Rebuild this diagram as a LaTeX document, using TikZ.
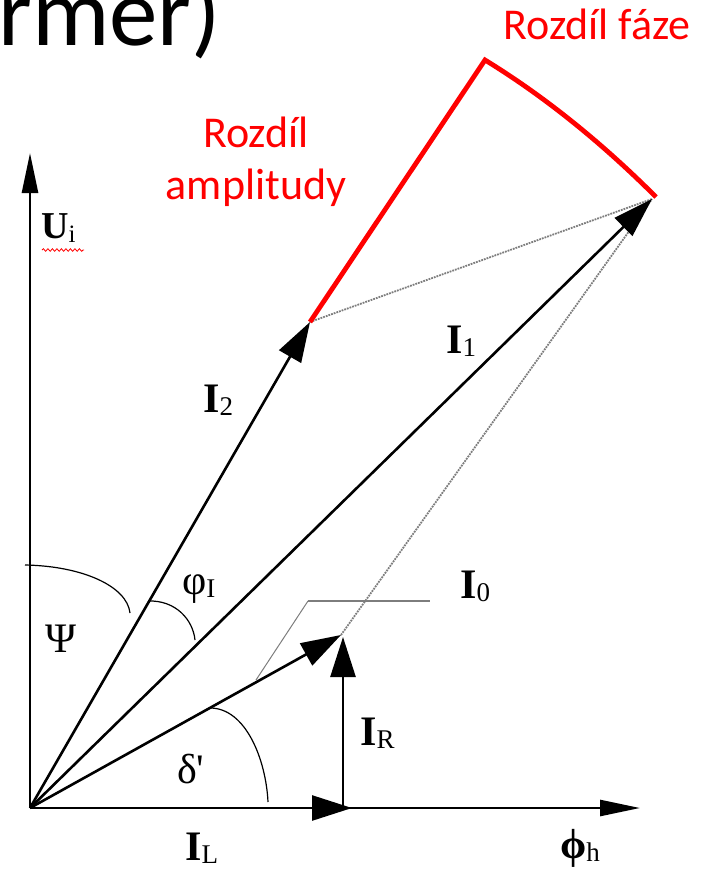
\documentclass[tikz,border=0pt]{standalone}
\usepackage{fontspec}
\setmainfont{Liberation Serif}
\newfontfamily\slidefont{Carlito}
\usetikzlibrary{arrows.meta,decorations.pathmorphing}
\definecolor{slidered}{RGB}{255,0,0}
\definecolor{leadgray}{RGB}{125,125,125}
\newcommand{\phasor}[2]{{\fontsize{42}{42}\selectfont #1}\raisebox{-3pt}{\fontsize{27}{27}\selectfont #2}}

\begin{document}
\begin{tikzpicture}[x=1pt, y=-1pt,
  vec/.style={line width=2.6pt, -{Triangle[length=40pt,width=25pt]}},
  axis/.style={line width=2.6pt, -{Triangle[length=40pt,width=16pt]}},
  anglearc/.style={line width=1.2pt},
  dotline/.style={line width=1.8pt, densely dotted, color=leadgray},
  leader/.style={color=leadgray},
  redline/.style={line width=4.8pt, color=slidered},
  lbl/.style={anchor=base west, inner sep=0pt},
  note/.style={font=\slidefont\fontsize{44}{52}\selectfont, text=slidered, align=center, inner sep=0pt}
]
  \useasboundingbox (0,0) rectangle (702,869);

  % cut-off slide title
  \node[anchor=base west, inner sep=0pt, font=\slidefont\fontsize{97}{97}\selectfont] (title) at (-2,46) {rmer)};

  % points
  \coordinate (O) at (30,808);
  \coordinate (Utip) at (30,153);
  \coordinate (Htip) at (640,808);
  \coordinate (I2tip) at (310,322);
  \coordinate (I1tip) at (652,199);
  \coordinate (I0tip) at (341,635);
  \coordinate (ILtip) at (352,808);
  \coordinate (IRfoot) at (343,808);
  \coordinate (IRtip) at (343,637);
  \coordinate (redtop) at (485,60);
  \coordinate (redend) at (656,197);
  \coordinate (lead) at (256,680);
  \coordinate (leadknee) at (308,601);
  \coordinate (leadend) at (430,601);

  % dotted construction lines
  \draw[dotline] (I2tip) -- (I1tip);
  \draw[dotline] (I0tip) -- (I1tip);

  % axes
  \draw[axis] (O) -- (Utip);
  \draw[axis] (O) -- (Htip);

  % phasors
  \draw[vec] (O) -- (I2tip);
  \draw[vec] (O) -- (I1tip);
  \draw[vec] (O) -- (I0tip);
  \draw[vec] (O) -- (ILtip);
  \draw[vec] (IRfoot) -- (IRtip);

  % angles
  \draw[anglearc] (25,565) .. controls (82,566) and (127,586) .. (130,613);
  \draw[anglearc] (148,601) .. controls (176,600) and (193,620) .. (195,640);
  \draw[anglearc] (210,708) .. controls (246,708) and (266,760) .. (268,802);

  % leader of I0
  \draw[leader, line width=1pt] (lead) -- (leadknee);
  \draw[leader, line width=2pt] (leadknee) -- (leadend);

  % red marks
  \draw[redline] (I2tip) -- (redtop) .. controls (547,98) and (604,145) .. (redend);

  % labels
  \node[lbl] (Ulbl) at (41,238) {{\fontsize{38}{38}\selectfont\textbf{U}}\raisebox{-4pt}{\fontsize{25}{25}\selectfont i}};
  \draw[slidered, line width=0.8pt, decorate, decoration={snake, amplitude=1.3pt, segment length=4.5pt}]
    (42,250) -- (84,250);
  \node[lbl] (I2lbl) at (203,412) {\phasor{\textbf{I}}{2}};
  \node[lbl] (I1lbl) at (446,353) {\phasor{\textbf{I}}{1}};
  \node[lbl] (I0lbl) at (460,598) {\phasor{\textbf{I}}{0}};
  \node[lbl] (IRlbl) at (360,745) {\phasor{\textbf{I}}{R}};
  \node[lbl] (ILlbl) at (185,860) {\phasor{\textbf{I}}{L}};
  \node[lbl] (philbl) at (182,594) {\phasor{φ}{I}};
  \node[lbl] (psilbl) at (45,652) {\fontsize{42}{42}\selectfont Ψ};
  \node[lbl] (deltalbl) at (177,783) {\fontsize{42}{42}\selectfont δ\textquotesingle};
  \node[lbl] (hlbl) at (560,858) {\phasor{\textbf{ϕ}}{h}};

  \node[note] (ampl) at (256,162) {Rozdíl\\amplitudy};
  \node[note, anchor=base] (phase) at (597,40) {Rozdíl fáze};
\end{tikzpicture}
\end{document}
